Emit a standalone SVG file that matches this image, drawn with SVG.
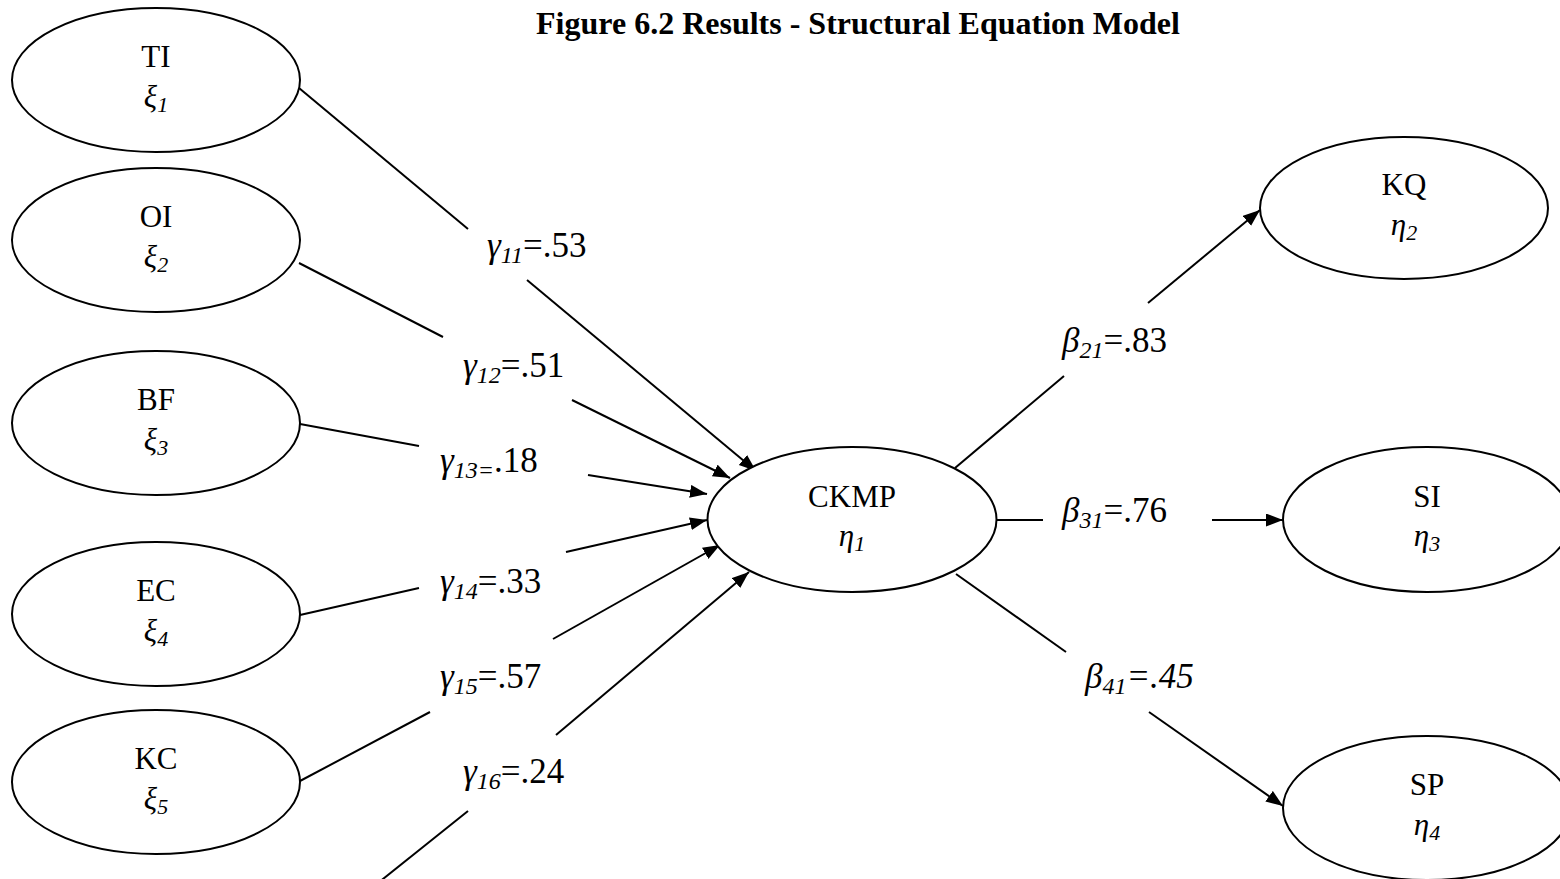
<svg xmlns="http://www.w3.org/2000/svg" width="1560" height="879" viewBox="0 0 1560 879">
<style>
.bg{fill:#fff}
ellipse{fill:#fff;stroke:#000;stroke-width:2}
.c line{stroke:#000;stroke-width:2}
text{font-family:"Liberation Serif","Times New Roman",serif;fill:#000}
.lbl{font-size:31px;text-anchor:middle}
.gk{font-style:italic}
.sub{font-size:22px;font-style:italic}
.ct{font-size:35px}
.csub{font-size:24px;font-style:italic}
.title{font-size:32px;font-weight:bold;text-anchor:middle}
</style>
<defs>
<marker id="ah" markerWidth="18" markerHeight="14" refX="17" refY="6.5" orient="auto" markerUnits="userSpaceOnUse">
<path d="M0,0 L17,6.5 L0,13 z" fill="#000"/>
</marker>
</defs>
<rect class="bg" x="0" y="0" width="1560" height="879"/>
<text class="title" x="858" y="34">Figure 6.2 Results - Structural Equation Model</text>

<g id="connectors" class="c">
<line x1="299" y1="88" x2="468" y2="229"/>
<line x1="527" y1="280" x2="756" y2="471" marker-end="url(#ah)"/>
<line x1="299" y1="263" x2="443" y2="337"/>
<line x1="572" y1="400" x2="730" y2="478" marker-end="url(#ah)"/>
<line x1="300" y1="424" x2="419" y2="446"/>
<line x1="588" y1="475" x2="707" y2="494" marker-end="url(#ah)"/>
<line x1="300" y1="615" x2="419" y2="588"/>
<line x1="566" y1="552" x2="707" y2="520" marker-end="url(#ah)"/>
<line x1="300" y1="781" x2="430" y2="712"/>
<line x1="553" y1="639" x2="720" y2="545" marker-end="url(#ah)"/>
<line x1="378" y1="883" x2="468" y2="811"/>
<line x1="556" y1="735" x2="749" y2="572" marker-end="url(#ah)"/>
<line x1="955" y1="468" x2="1064" y2="376"/>
<line x1="1148" y1="303" x2="1260" y2="210" marker-end="url(#ah)"/>
<line x1="996" y1="520" x2="1043" y2="520"/>
<line x1="1212" y1="520" x2="1283" y2="520" marker-end="url(#ah)"/>
<line x1="956" y1="574" x2="1066" y2="652"/>
<line x1="1149" y1="712" x2="1283" y2="806" marker-end="url(#ah)"/>
</g>

<g id="labels">
<text class="ct" x="487" y="257"><tspan class="gk">γ</tspan><tspan class="csub" dy="6">11</tspan><tspan dy="-6">=.53</tspan></text>
<text class="ct" x="463" y="377"><tspan class="gk">γ</tspan><tspan class="csub" dy="6">12</tspan><tspan dy="-6">=.51</tspan></text>
<text class="ct" x="440" y="472"><tspan class="gk">γ</tspan><tspan class="csub" dy="6">13=</tspan><tspan dy="-6">.18</tspan></text>
<text class="ct" x="440" y="593"><tspan class="gk">γ</tspan><tspan class="csub" dy="6">14</tspan><tspan dy="-6">=.33</tspan></text>
<text class="ct" x="440" y="688"><tspan class="gk">γ</tspan><tspan class="csub" dy="6">15</tspan><tspan dy="-6">=.57</tspan></text>
<text class="ct" x="463" y="783"><tspan class="gk">γ</tspan><tspan class="csub" dy="6">16</tspan><tspan dy="-6">=.24</tspan></text>
<text class="ct" x="1062" y="352"><tspan class="gk">β</tspan><tspan class="csub" dy="6">21</tspan><tspan dy="-6">=.83</tspan></text>
<text class="ct" x="1062" y="522"><tspan class="gk">β</tspan><tspan class="csub" dy="6">31</tspan><tspan dy="-6">=.76</tspan></text>
<text class="ct" x="1085" y="688"><tspan class="gk">β</tspan><tspan class="csub" dy="6">41</tspan><tspan dy="-6" class="gk">=.45</tspan></text>
</g>

<g id="TI"><ellipse cx="156" cy="80" rx="144" ry="72"/><text class="lbl" x="156" y="67">TI</text><text class="lbl" x="156" y="107"><tspan class="gk">ξ</tspan><tspan class="sub" dy="5">1</tspan></text></g>
<g id="OI"><ellipse cx="156" cy="240" rx="144" ry="72"/><text class="lbl" x="156" y="227">OI</text><text class="lbl" x="156" y="267"><tspan class="gk">ξ</tspan><tspan class="sub" dy="5">2</tspan></text></g>
<g id="BF"><ellipse cx="156" cy="423" rx="144" ry="72"/><text class="lbl" x="156" y="410">BF</text><text class="lbl" x="156" y="450"><tspan class="gk">ξ</tspan><tspan class="sub" dy="5">3</tspan></text></g>
<g id="EC"><ellipse cx="156" cy="614" rx="144" ry="72"/><text class="lbl" x="156" y="601">EC</text><text class="lbl" x="156" y="641"><tspan class="gk">ξ</tspan><tspan class="sub" dy="5">4</tspan></text></g>
<g id="KC"><ellipse cx="156" cy="782" rx="144" ry="72"/><text class="lbl" x="156" y="769">KC</text><text class="lbl" x="156" y="809"><tspan class="gk">ξ</tspan><tspan class="sub" dy="5">5</tspan></text></g>
<g id="CKMP"><ellipse cx="852" cy="519.5" rx="144.5" ry="72.5"/><text class="lbl" x="852" y="507">CKMP</text><text class="lbl" x="852" y="546"><tspan class="gk">η</tspan><tspan class="sub" dy="5">1</tspan></text></g>
<g id="KQ"><ellipse cx="1404" cy="208" rx="144" ry="71"/><text class="lbl" x="1404" y="195">KQ</text><text class="lbl" x="1404" y="235"><tspan class="gk">η</tspan><tspan class="sub" dy="5">2</tspan></text></g>
<g id="SI"><ellipse cx="1427" cy="519.5" rx="144" ry="72.5"/><text class="lbl" x="1427" y="507">SI</text><text class="lbl" x="1427" y="546"><tspan class="gk">η</tspan><tspan class="sub" dy="5">3</tspan></text></g>
<g id="SP"><ellipse cx="1427" cy="808" rx="144" ry="72"/><text class="lbl" x="1427" y="795">SP</text><text class="lbl" x="1427" y="835"><tspan class="gk">η</tspan><tspan class="sub" dy="5">4</tspan></text></g>
</svg>
